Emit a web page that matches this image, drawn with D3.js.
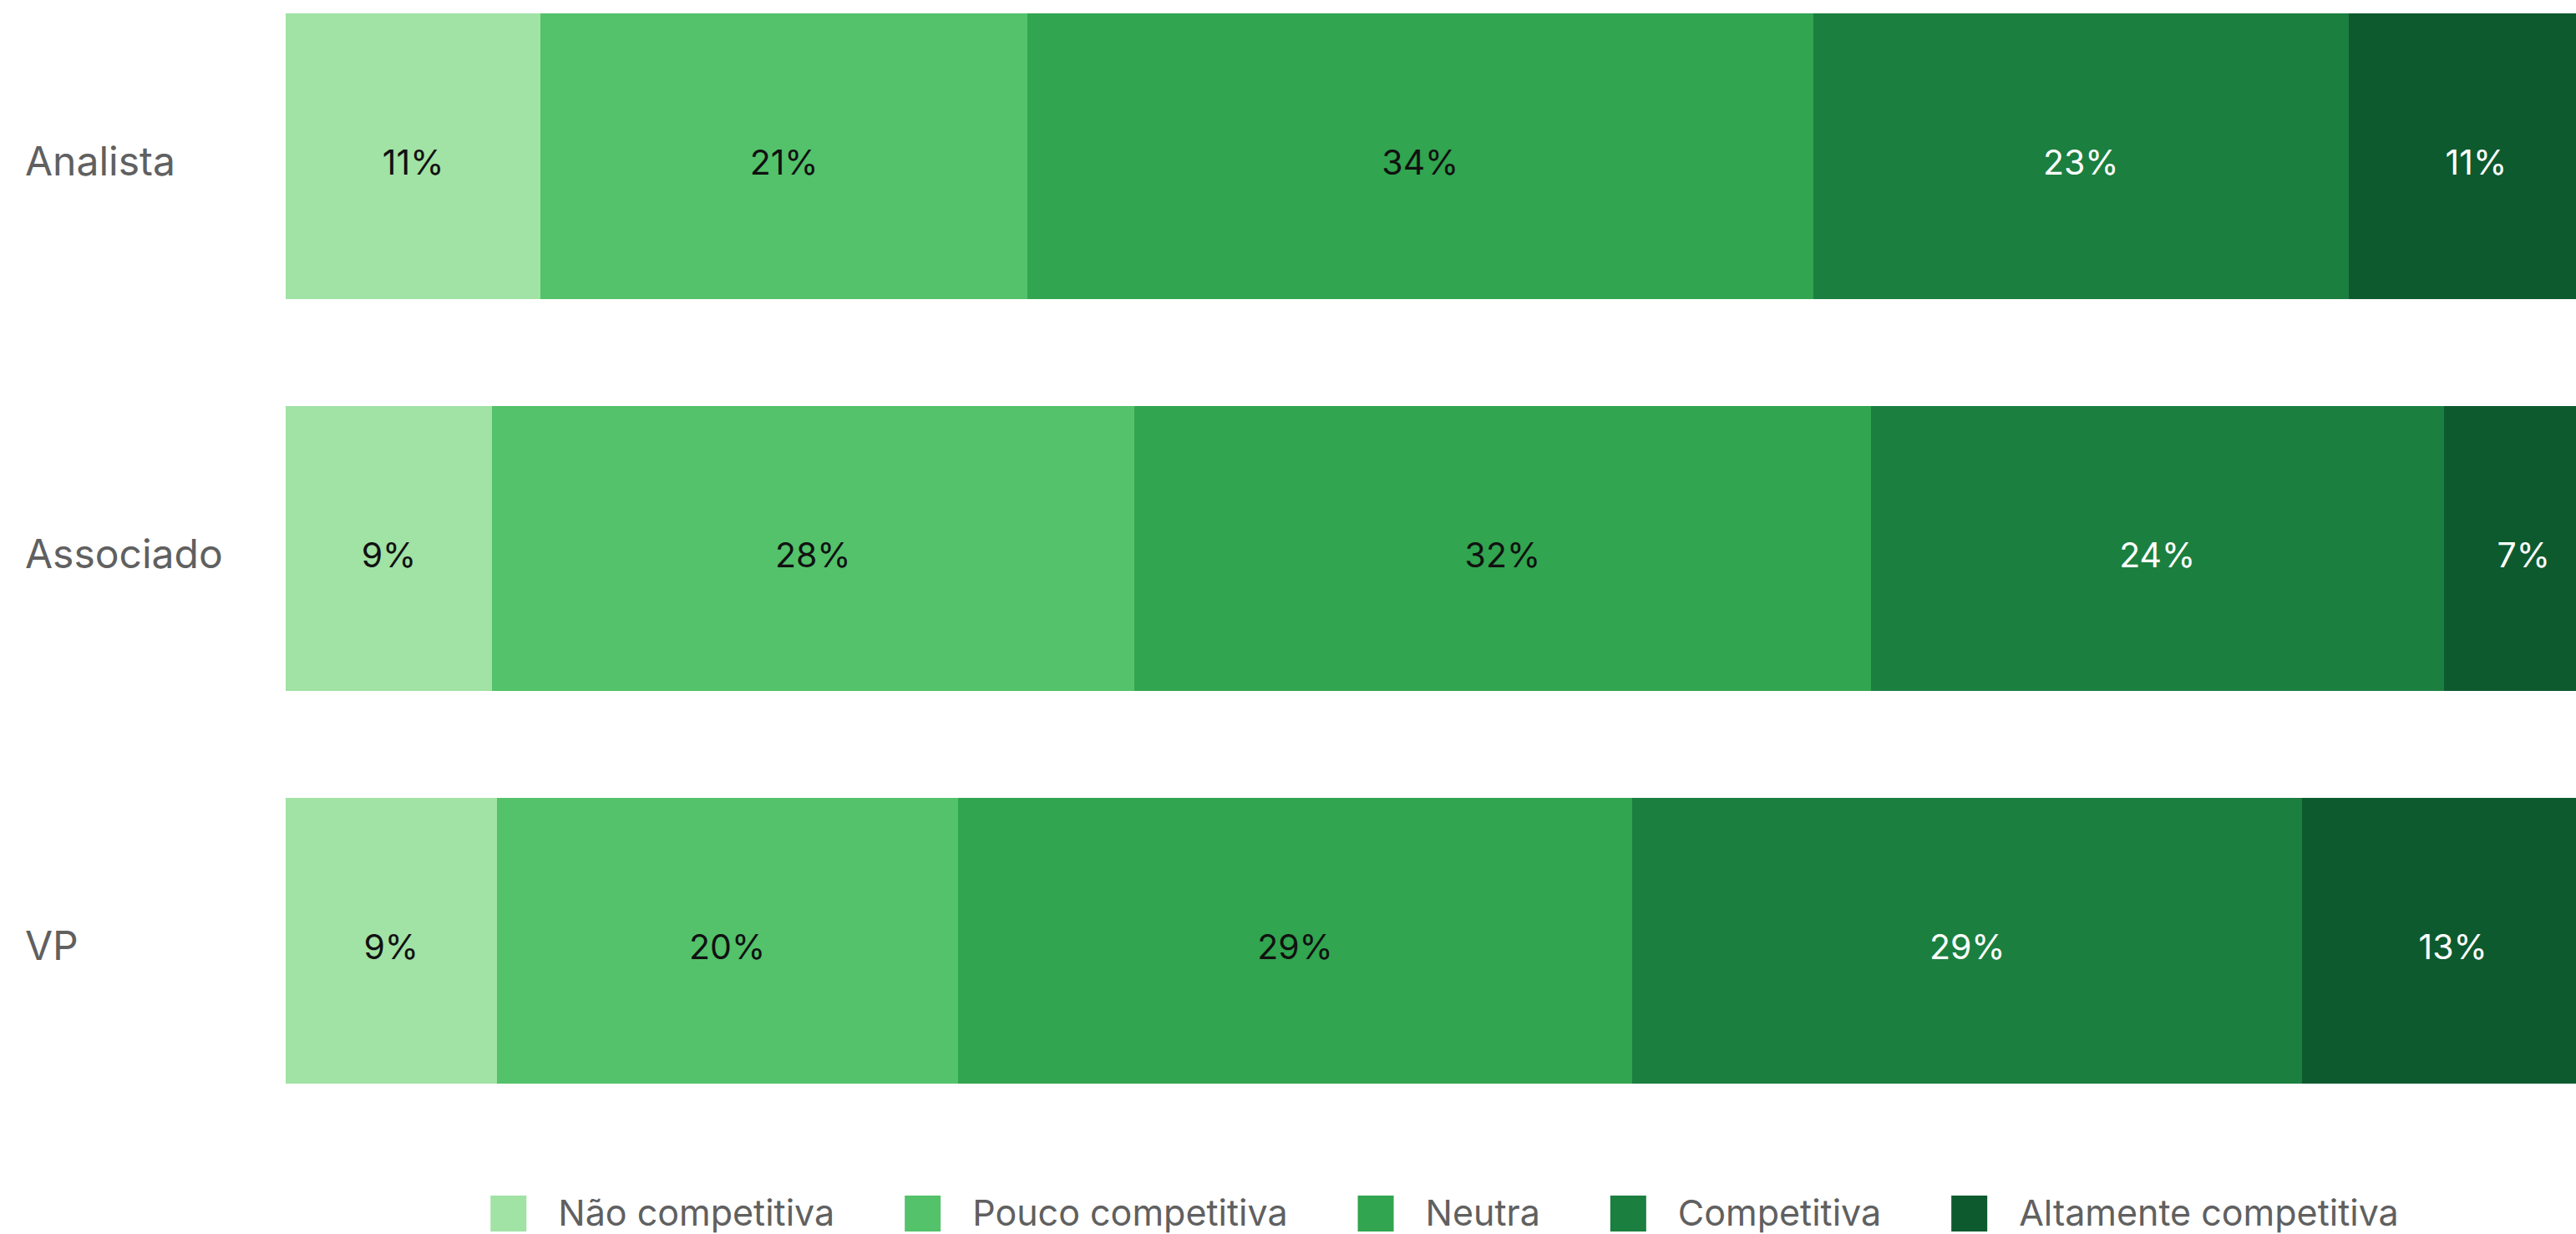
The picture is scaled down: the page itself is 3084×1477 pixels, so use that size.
<!DOCTYPE html>
<html>
<head>
<meta charset="utf-8">
<script src="https://cdn.jsdelivr.net/npm/d3@7"></script>
<style>
  html, body { margin: 0; padding: 0; background: #ffffff; }
  svg { display: block; }
  text { font-family: Inter, "Liberation Sans", sans-serif; }
</style>
</head>
<body>
<script>
// ---- Data ----
const categories = ["Analista", "Associado", "VP"];
const seriesNames = ["Não competitiva", "Pouco competitiva", "Neutra", "Competitiva", "Altamente competitiva"];
const seriesColors = ["#a1e2a5", "#53c26a", "#31a54f", "#1b7f3f", "#0d5a2f"];

// segment widths (percent of respondents)
const naoCompetitiva       = [11.0, 8.9, 9.1];
const poucoCompetitiva     = [21.0, 27.7, 19.9];
const neutra               = [33.9, 31.8, 29.1];
const competitiva          = [23.1, 24.7, 28.9];
const altamenteCompetitiva = [11.0, 6.9, 13.0];

// printed labels
const naoLabels       = ["11%", "9%", "9%"];
const poucoLabels     = ["21%", "28%", "20%"];
const neutraLabels    = ["34%", "32%", "29%"];
const competLabels    = ["23%", "24%", "29%"];
const altamenteLabels = ["11%", "7%", "13%"];

const seriesValues = [naoCompetitiva, poucoCompetitiva, neutra, competitiva, altamenteCompetitiva];
const seriesLabels = [naoLabels, poucoLabels, neutraLabels, competLabels, altamenteLabels];
const labelColors = ["#111111", "#111111", "#111111", "#ffffff", "#ffffff"];

// ---- Layout ----
const W = 3084, H = 1477;
const svg = d3.select("body").append("svg").attr("width", W).attr("height", H);

const x = d3.scaleLinear().domain([0, 100]).range([342, 3117]);
const y = d3.scaleBand().domain(categories).range([16, 1297]).paddingInner(0.2716).paddingOuter(0);

const rows = categories.map((c, i) => {
  const r = { category: c };
  seriesNames.forEach((s, j) => { r[s] = seriesValues[j][i]; });
  return r;
});
const stacked = d3.stack().keys(seriesNames)(rows);

const layers = svg.append("g").selectAll("g")
  .data(stacked)
  .join("g")
  .attr("fill", (d, j) => seriesColors[j]);

layers.selectAll("rect")
  .data(d => d.map(p => p))
  .join("rect")
  .attr("x", d => x(d[0]))
  .attr("y", d => y(d.data.category))
  .attr("width", d => x(d[1]) - x(d[0]))
  .attr("height", y.bandwidth())
  .attr("shape-rendering", "crispEdges");

// value labels
stacked.forEach((layer, j) => {
  svg.append("g").selectAll("text")
    .data(layer)
    .join("text")
    .attr("x", d => (x(d[0]) + x(d[1])) / 2)
    .attr("y", d => y(d.data.category) + y.bandwidth() / 2 + 22)
    .attr("text-anchor", "middle")
    .attr("font-size", 41)
    .attr("fill", labelColors[j])
    .text((d, i) => seriesLabels[j][i]);
});

// category labels (y axis, no line/ticks)
const yAxis = svg.append("g")
  .attr("transform", "translate(30,0)")
  .call(d3.axisRight(y).tickSize(0).tickPadding(0));
yAxis.select(".domain").remove();
yAxis.selectAll("text")
  .attr("font-family", "Inter, 'Liberation Sans', sans-serif")
  .attr("font-size", 48)
  .attr("fill", "#606060")
  .attr("dy", null)
  .attr("y", 23)
  .attr("text-anchor", "start");

// ---- Legend ----
const sq = 43, gapText = 38, gapItem = 84;
const legend = svg.append("g");
const items = legend.selectAll("g").data(seriesNames).join("g");
items.append("rect")
  .attr("width", sq).attr("height", sq)
  .attr("y", 1431)
  .attr("fill", (d, j) => seriesColors[j]);
items.append("text")
  .attr("x", sq + gapText)
  .attr("y", 1467)
  .attr("font-size", 43)
  .attr("fill", "#606060")
  .text(d => d);

let offsets = [], cur = 0;
items.each(function () {
  const tw = d3.select(this).select("text").node().getComputedTextLength();
  offsets.push(cur);
  cur += sq + gapText + tw + gapItem;
});
const totalW = cur - gapItem;
const startX = (x.range()[0] + x.range()[1]) / 2 - totalW / 2;
items.attr("transform", (d, j) => `translate(${startX + offsets[j]},0)`);
</script>
</body>
</html>
